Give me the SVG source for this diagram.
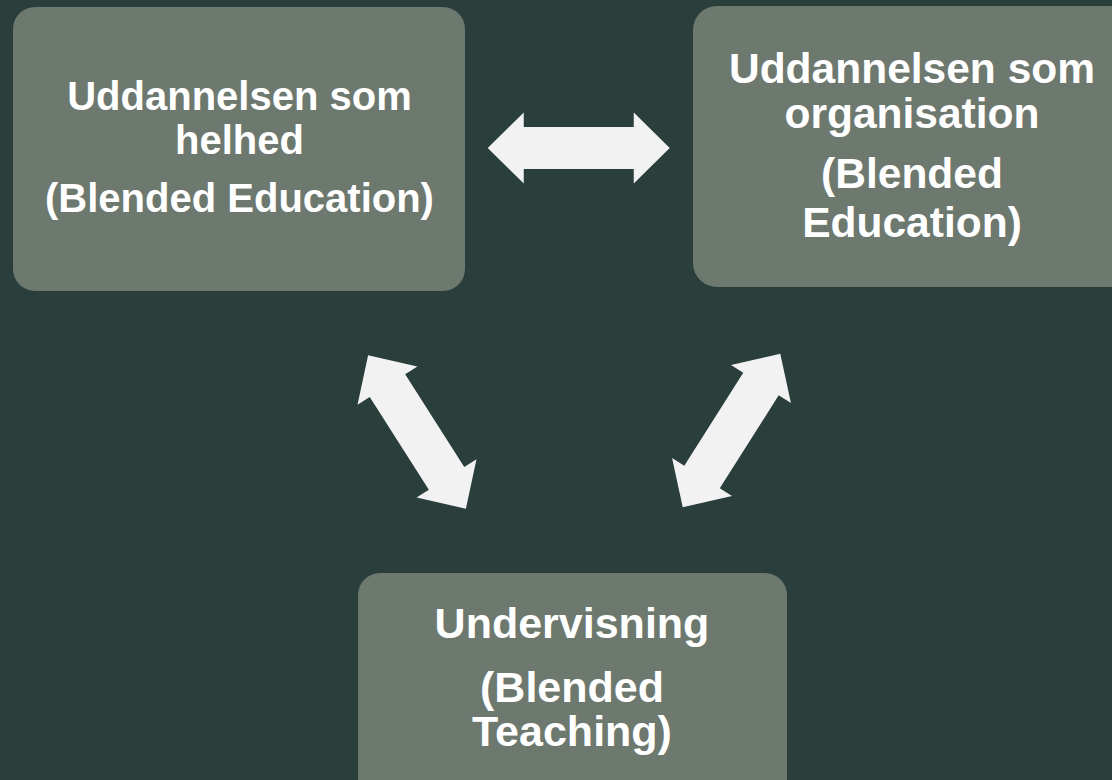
<svg xmlns="http://www.w3.org/2000/svg" width="1112" height="780" viewBox="0 0 1112 780">
<defs>
<style>
.box{fill:#6d786f}
.lbl{font-family:"Liberation Sans",Arial,sans-serif;font-weight:bold;fill:#ffffff;text-anchor:middle}
.arrow{fill:#f2f2f2}
</style>
<polygon id="dblarrow" points="-91,0 -55,-35.5 -55,-21 55,-21 55,-35.5 91,0 55,35.5 55,21 -55,21 -55,35.5"/>
</defs>
<rect width="1112" height="780" fill="#2a3e3c"/>
<g id="connectors" class="arrow">
<use href="#dblarrow" transform="translate(578.75,148)"/>
<use href="#dblarrow" transform="translate(417,432) rotate(57.5)"/>
<use href="#dblarrow" transform="translate(731.5,430.5) rotate(-57.6)"/>
</g>
<g id="node-helhed">
<rect class="box" x="13" y="7" width="452" height="284" rx="22"/>
<text class="lbl" font-size="40"><tspan x="239.5" y="110">Uddannelsen som</tspan><tspan x="239.5" y="154">helhed</tspan><tspan x="239.5" y="212">(Blended Education)</tspan></text>
</g>
<g id="node-organisation">
<rect class="box" x="693" y="6" width="452" height="281" rx="24"/>
<text class="lbl" font-size="42.5"><tspan x="912" y="83">Uddannelsen som</tspan><tspan x="912" y="128">organisation</tspan><tspan x="912" y="188">(Blended</tspan><tspan x="912" y="237">Education)</tspan></text>
</g>
<g id="node-undervisning">
<rect class="box" x="358" y="573" width="429" height="240" rx="22"/>
<text class="lbl" font-size="43"><tspan x="572" y="638">Undervisning</tspan><tspan x="572" y="702">(Blended</tspan><tspan x="572" y="746">Teaching)</tspan></text>
</g>
</svg>
